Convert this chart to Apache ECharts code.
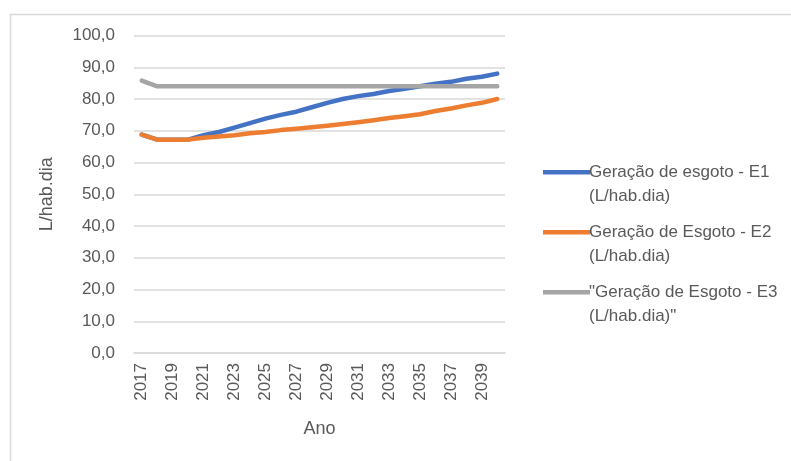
<!DOCTYPE html>
<html>
<head>
<meta charset="utf-8">
<script src="https://cdn.jsdelivr.net/npm/echarts@6/dist/echarts.min.js"></script>
<style>
  html, body { margin: 0; padding: 0; background: #ffffff; }
  #chart { width: 791px; height: 461px; }
</style>
</head>
<body>
<div id="chart"></div>
<script>
// Years on the category axis
const anos = [
  '2017', '2018', '2019', '2020', '2021', '2022', '2023', '2024',
  '2025', '2026', '2027', '2028', '2029', '2030', '2031', '2032',
  '2033', '2034', '2035', '2036', '2037', '2038', '2039', '2040'
];

// Sewage generation per scenario (L/hab.dia)
const geracaoE1 = [
  68.8, 67.2, 67.2, 67.2, 68.6, 69.6, 71.0, 72.4,
  73.8, 75.0, 76.0, 77.4, 78.8, 80.0, 80.9, 81.6,
  82.5, 83.2, 84.0, 84.8, 85.4, 86.4, 87.0, 88.0
];
const geracaoE2 = [
  68.8, 67.2, 67.2, 67.2, 67.8, 68.2, 68.6, 69.2,
  69.6, 70.2, 70.6, 71.1, 71.6, 72.1, 72.7, 73.3,
  74.0, 74.6, 75.2, 76.2, 77.0, 78.0, 78.8, 80.0
];
const geracaoE3 = [
  85.8, 84.0, 84.0, 84.0, 84.0, 84.0, 84.0, 84.0,
  84.0, 84.0, 84.0, 84.0, 84.0, 84.0, 84.0, 84.0,
  84.0, 84.0, 84.0, 84.0, 84.0, 84.0, 84.0, 84.0
];

const nomesSeries = [
  'Geração de esgoto - E1\n(L/hab.dia)',
  'Geração de Esgoto - E2\n(L/hab.dia)',
  '"Geração de Esgoto - E3\n(L/hab.dia)"'
];
const cores = ['#4472C4', '#ED7D31', '#A5A5A5'];

const fonte = '"Liberation Sans", "Noto Sans", Arial, sans-serif';
const corTexto = '#595959';

// Legend icon: a short bar near the top of a taller box, so it sits beside the first text line
const iconeLegenda = 'path://M0,0h0.05v0.05h-0.05z M0,10h47v4.5h-47z M0,47.95h0.05v0.05h-0.05z';

function serie(nome, dados, cor) {
  return {
    name: nome,
    type: 'line',
    data: dados,
    symbol: 'none',
    smooth: false,
    lineStyle: { width: 4.5, color: cor, cap: 'round', join: 'round' },
    itemStyle: { color: cor }
  };
}

const chart = echarts.init(document.getElementById('chart'), null, { renderer: 'canvas' });

chart.setOption({
  animation: false,
  backgroundColor: '#ffffff',
  color: cores,
  graphic: [{
    type: 'rect',
    left: 8, top: 12,
    shape: { width: 800, height: 470 },
    style: { fill: 'none', stroke: '#d9d9d9', lineWidth: 1.5 },
    silent: true
  }],
  grid: { left: 134, right: 286, top: 35.5, bottom: 108, containLabel: false },
  legend: {
    orient: 'vertical',
    left: 538,
    top: 155,
    itemWidth: 47,
    itemHeight: 48,
    itemGap: 12,
    icon: iconeLegenda,
    data: nomesSeries,
    textStyle: {
      fontFamily: fonte,
      fontSize: 17,
      color: corTexto,
      lineHeight: 24,
      padding: [0, 0, 0, -6]
    }
  },
  xAxis: {
    type: 'category',
    data: anos,
    boundaryGap: true,
    name: 'Ano',
    nameLocation: 'middle',
    nameGap: 67,
    nameTextStyle: { fontFamily: fonte, fontSize: 18, color: corTexto },
    axisLine: { show: true, lineStyle: { color: '#d9d9d9', width: 1.5 } },
    axisTick: { show: false },
    axisLabel: {
      interval: 1,
      rotate: 90,
      margin: 10,
      fontFamily: fonte,
      fontSize: 17,
      color: corTexto
    }
  },
  yAxis: {
    type: 'value',
    min: 0,
    max: 100,
    interval: 10,
    name: 'L/hab.dia',
    nameLocation: 'middle',
    nameRotate: 90,
    nameGap: 78,
    nameTextStyle: { fontFamily: fonte, fontSize: 18, color: corTexto },
    axisLine: { show: false },
    axisTick: { show: false },
    splitLine: { lineStyle: { color: '#d9d9d9', width: 1.5 } },
    axisLabel: {
      margin: 19,
      fontFamily: fonte,
      fontSize: 17,
      color: corTexto,
      formatter: function (v) { return v.toFixed(1).replace('.', ','); }
    }
  },
  series: [
    serie(nomesSeries[0], geracaoE1, cores[0]),
    serie(nomesSeries[1], geracaoE2, cores[1]),
    serie(nomesSeries[2], geracaoE3, cores[2])
  ]
});
</script>
</body>
</html>
